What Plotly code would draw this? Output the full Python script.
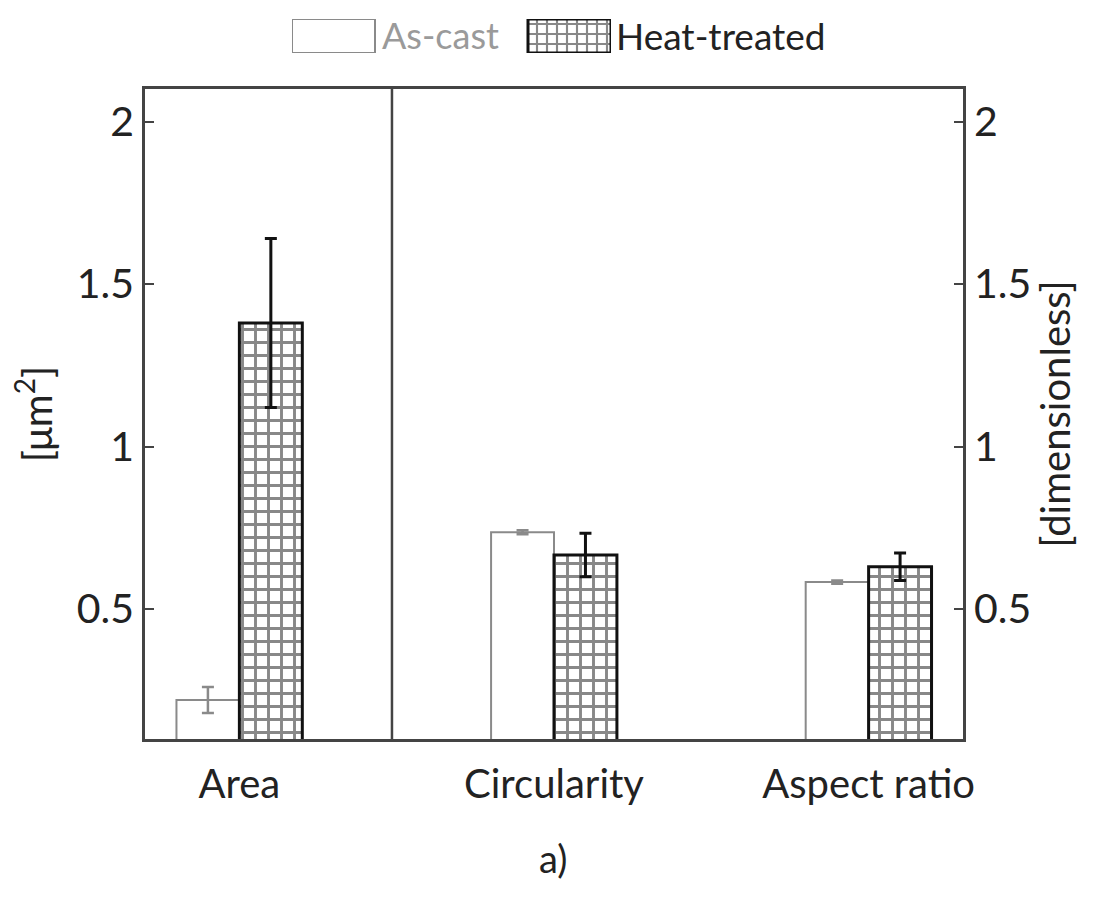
import plotly.graph_objects as go

# Particle morphology: mean values with standard deviation
categories = ["Area", "Circularity", "Aspect ratio"]
as_cast = [0.22, 0.736, 0.583]
as_cast_sd = [0.04, 0.006, 0.005]
heat_treated = [1.38, 0.666, 0.63]
heat_treated_sd = [0.26, 0.067, 0.042]

y_ticks = [0.5, 1, 1.5, 2]
y_tick_text = ["0.5", "1", "1.5", "2"]

FONT = "Lato"
TEXT = "#222222"
GREY = "#8a8a8a"
AXIS = "#444444"

W, H = 1095, 902
L, R, T, B = 145, 132, 10, 163
plot_w = W - L - R
plot_h = H - T - B


def py(pix):
    # page pixel row -> paper fraction
    return (H - B - pix) / plot_h


def px(pix):
    return (pix - L) / plot_w


fig = go.Figure()

fig.add_trace(go.Bar(
    name="As-cast", x=categories, y=as_cast,
    marker=dict(color="white", line=dict(color=GREY, width=2)),
    error_y=dict(type="data", array=as_cast_sd, color=GREY, thickness=2.5, width=6),
    showlegend=False,
))
fig.add_trace(go.Bar(
    name="Heat-treated", x=categories, y=heat_treated,
    marker=dict(color="white", line=dict(color="#111111", width=3),
                pattern=dict(shape="+", size=13, solidity=0.4,
                             fgcolor="#111111", bgcolor="white", fillmode="overlay")),
    error_y=dict(type="data", array=heat_treated_sd, color="#111111", thickness=3, width=6),
    showlegend=False,
))

# legend keys drawn on their own small axis above the plot (axis units = pixels)
key_left, key_right = 292, 611
fig.add_trace(go.Bar(
    x=[0], y=[1], base=0, width=[83], offset=0, xaxis="x3", yaxis="y3",
    marker=dict(color="white", line=dict(color=GREY, width=2)),
    showlegend=False, hoverinfo="skip",
))
fig.add_trace(go.Bar(
    x=[236], y=[1], base=0, width=[83], offset=0, xaxis="x3", yaxis="y3",
    marker=dict(color="white", line=dict(color="#111111", width=3),
                pattern=dict(shape="+", size=10, solidity=0.38,
                             fgcolor="#111111", bgcolor="white", fillmode="overlay")),
    showlegend=False, hoverinfo="skip",
))

main_top = py(89)

fig.update_layout(
    width=W, height=H,
    margin=dict(l=L, r=R, t=T, b=B),
    paper_bgcolor="white", plot_bgcolor="white",
    barmode="group", bargap=0.6, bargroupgap=0,
    font=dict(family=FONT, size=40, color=TEXT),
    showlegend=False,
    xaxis=dict(
        domain=[0, 1], range=[-0.3, 2.3], showgrid=False, zeroline=False,
        showline=True, linecolor=AXIS, linewidth=2.5, mirror=True,
        ticks="", ticklabelstandoff=8,
        tickfont=dict(family=FONT, size=40, color=TEXT),
    ),
    yaxis=dict(
        domain=[0, main_top], range=[0.1, 2.1], showgrid=False, zeroline=False,
        showline=True, linecolor=AXIS, linewidth=2.5, mirror=True,
        tickvals=y_ticks, ticktext=y_tick_text,
        ticks="inside", ticklen=9, tickwidth=2, tickcolor=AXIS,
        tickfont=dict(family=FONT, size=41, color=TEXT),
        title=dict(text="[μm<sup>2</sup>]", standoff=12,
                   font=dict(family=FONT, size=40, color=TEXT)),
    ),
    yaxis2=dict(
        overlaying="y", side="right", matches="y", range=[0.1, 2.1],
        showgrid=False, zeroline=False, showline=True, linecolor=AXIS, linewidth=2.5,
        tickvals=y_ticks, ticktext=y_tick_text,
        ticks="inside", ticklen=9, tickwidth=2, tickcolor=AXIS,
        tickfont=dict(family=FONT, size=41, color=TEXT),
        title=dict(text="[dimensionless]", standoff=0,
                   font=dict(family=FONT, size=40, color=TEXT)),
    ),
    xaxis3=dict(domain=[px(key_left), px(key_right)], range=[0, key_right - key_left],
                anchor="y3", visible=False, fixedrange=True),
    yaxis3=dict(domain=[py(53), py(19)], range=[0, 1], anchor="x3", visible=False, fixedrange=True),
)

# an invisible trace keeps the right-hand axis drawn
fig.add_trace(go.Scatter(x=[categories[0]], y=[None], yaxis="y2", showlegend=False,
                         hoverinfo="skip", mode="markers"))

# divider between the area panel and the dimensionless panel
fig.add_shape(type="line", xref="x", yref="paper", x0=0.485, x1=0.485, y0=0, y1=main_top,
              line=dict(color=AXIS, width=2.5))

fig.add_annotation(text="As-cast", xref="paper", yref="paper", x=px(380), y=py(35),
                   xanchor="left", yanchor="middle", showarrow=False,
                   font=dict(family=FONT, size=36, color="#9a9a9a"))
fig.add_annotation(text="Heat-treated", xref="paper", yref="paper", x=px(614), y=py(35),
                   xanchor="left", yanchor="middle", showarrow=False,
                   font=dict(family=FONT, size=37, color=TEXT))
fig.add_annotation(text="a)", xref="paper", yref="paper", x=px(553), y=py(858),
                   xanchor="center", yanchor="middle", showarrow=False,
                   font=dict(family=FONT, size=38, color=TEXT))

fig.write_html("out.html")
